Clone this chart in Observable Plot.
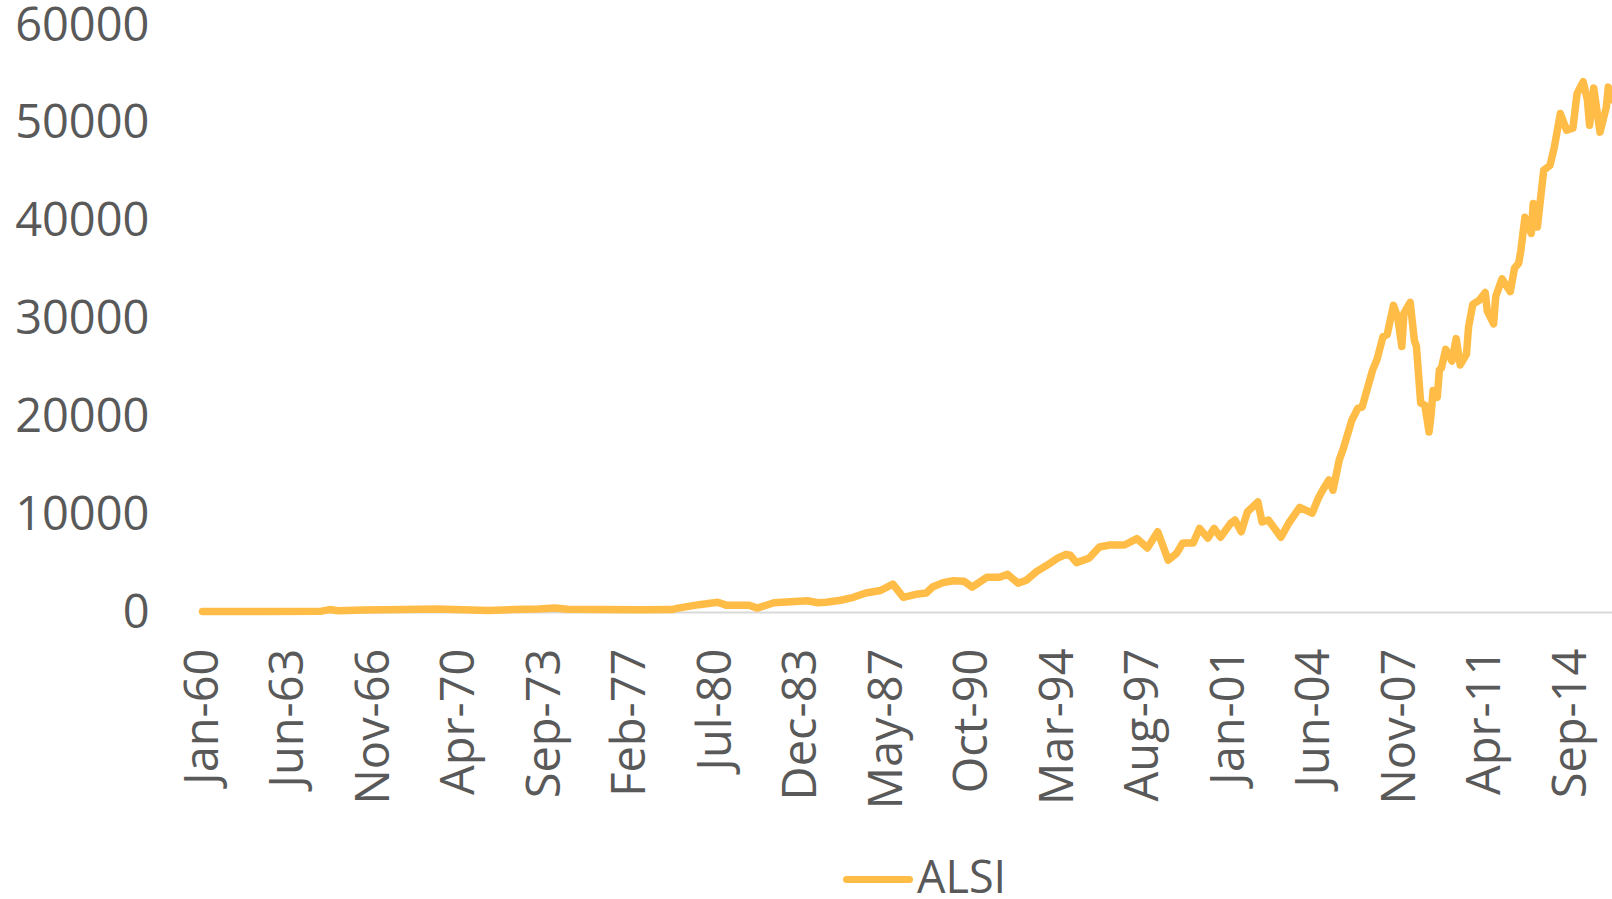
<!DOCTYPE html>
<html>
<head>
<meta charset="utf-8">
<script src="https://cdn.jsdelivr.net/npm/d3@7"></script>
<script src="https://cdn.jsdelivr.net/npm/@observablehq/plot@0.6"></script>
<style>
  html, body { margin: 0; padding: 0; background: #fff; }
  body { width: 1612px; height: 899px; overflow: hidden; font-family: "Open Sans", sans-serif; position: relative; }
  #chart svg { overflow: visible; }
  #legend { position: absolute; left: 0; top: 820px; width: 1612px; height: 79px; }
  #legend .sw { position: absolute; left: 843px; top: 56px; width: 70px; height: 7px; border-radius: 4px; }
  #legend .lb { position: absolute; left: 917px; top: 34px; font-size: 45px; line-height: 44px; color: #595959; white-space: nowrap; }
</style>
</head>
<body>
<div id="chart"></div>
<div id="legend"><div class="sw"></div><div class="lb"></div></div>
<script>
const seriesName = "ALSI";
const months = [
  "1960-01","1962-07","1964-10","1965-02","1965-06","1966-06","1968-01","1969-05","1970-06","1971-06",
  "1972-06","1973-06","1974-02","1974-08","1976-01","1977-06","1978-10",
  "1979-01","1979-11","1980-08","1980-12","1981-11","1982-03","1982-11","1983-07","1984-03","1984-08",
  "1984-12","1985-07","1986-01","1986-07","1987-02","1987-08","1988-01","1988-08","1988-12","1989-03",
  "1989-08","1990-01","1990-06","1990-10","1991-05","1991-11","1992-03","1992-08","1992-12","1993-05",
  "1993-10","1994-03","1994-07","1994-09","1994-12","1995-06","1995-11","1996-04","1996-11","1997-05",
  "1997-10","1998-03","1998-08","1998-12","1999-03","1999-08","1999-11","2000-03","2000-06","2000-09",
  "2001-02","2001-04","2001-07","2001-10","2002-03","2002-05","2002-08","2003-02","2003-06","2003-11",
  "2004-05","2004-08","2004-10","2005-01","2005-03","2005-06","2005-08","2005-12","2006-03","2006-05",
  "2006-10","2006-12","2007-03","2007-05","2007-08","2007-10","2007-12","2008-01","2008-04","2008-06",
  "2008-07","2008-09","2008-11","2009-01","2009-02","2009-03","2009-05","2009-06","2009-07","2009-09",
  "2009-12","2010-02","2010-04","2010-07","2010-08","2010-10","2011-01","2011-04","2011-05","2011-08",
  "2011-09","2011-12","2012-04","2012-06","2012-08","2012-09","2012-11","2013-02","2013-03","2013-05",
  "2013-08","2013-11","2014-01","2014-04","2014-07","2014-10","2014-12","2015-03","2015-05","2015-06",
  "2015-08","2015-10","2015-11","2016-02","2016-03","2016-05"
];
const alsi = [
  100,110,140,300,180,250,300,350,280,200,
  300,350,450,330,300,280,300,
  450,800,1050,750,750,450,1000,1100,1200,1000,
  1050,1250,1550,2000,2250,2900,1550,1900,2000,2600,
  3050,3250,3200,2600,3600,3600,3900,3000,3300,4200,
  4850,5550,5950,5850,5100,5550,6700,6900,6900,7550,
  6600,8250,5350,6050,7100,7100,8600,7600,8600,7700,
  9150,9450,8250,10300,11300,9250,9450,7700,9200,10750,
  10150,11700,12500,13550,12500,15600,16800,19650,20900,21000,
  24800,25800,28200,28400,31400,30200,27200,30600,31700,27800,
  27200,21400,21200,18450,20300,22700,22000,24800,25000,26900,
  25700,28000,25300,26400,29200,31500,31900,32700,30800,29500,
  32300,34100,32800,35200,35700,37000,40400,38750,41800,39400,
  45200,45700,47500,51000,49300,49500,53050,54250,52400,49800,
  53600,50600,49100,51650,53700,52400
];
const tickMonths = ["1960-01","1963-06","1966-11","1970-04","1973-09","1977-02","1980-07","1983-12",
  "1987-05","1990-10","1994-03","1997-08","2001-01","2004-06","2007-11","2011-04","2014-09"];
const yTicks = [0, 10000, 20000, 30000, 40000, 50000, 60000];

const parse = d3.utcParse("%Y-%m");
const data = months.map((m, i) => ({date: parse(m), value: alsi[i]}));
const lineColor = "#ffbc47";
const textColor = "#595959";

const chart = Plot.plot({
  width: 1612,
  height: 820,
  marginLeft: 202,
  marginRight: 0,
  marginTop: 25,
  marginBottom: 208,
  style: {fontFamily: "'Open Sans', sans-serif", fontSize: "46px", color: textColor, background: "#fff"},
  x: {type: "utc", domain: [parse("1960-01"), parse("2016-05")]},
  y: {domain: [0, 60000]},
  marks: [
    Plot.axisY({ticks: yTicks, tickSize: 0, tickPadding: 53, tickFormat: d => String(d), label: null,
      fill: textColor, fontSize: 47}),
    Plot.axisX({ticks: tickMonths.map(parse), tickSize: 0, tickPadding: 36, tickRotate: -90,
      tickFormat: d3.utcFormat("%b-%y"), label: null, fill: textColor, fontSize: 47}),
    Plot.ruleY([0], {stroke: "#d9d9d9", strokeWidth: 2}),
    Plot.line(data, {x: "date", y: "value", stroke: lineColor, strokeWidth: 7.5,
      strokeLinejoin: "round", strokeLinecap: "round"})
  ]
});
document.getElementById("chart").appendChild(chart);

document.querySelector("#legend .sw").style.background = lineColor;
document.querySelector("#legend .lb").textContent = seriesName;
</script>
</body>
</html>
